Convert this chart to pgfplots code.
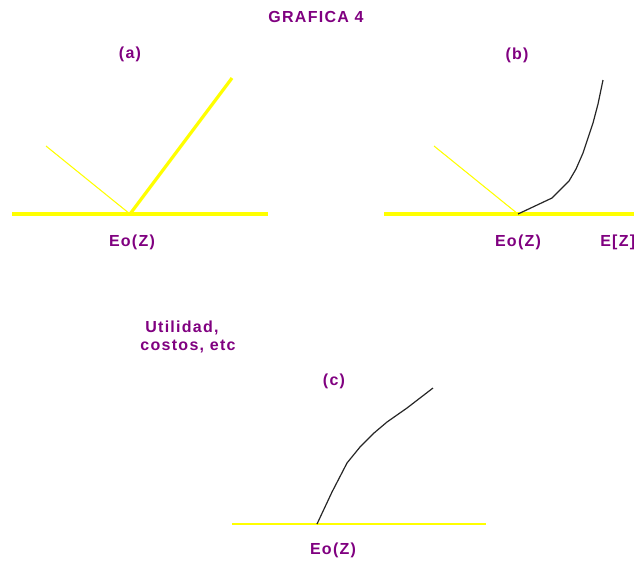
\documentclass[border=0pt]{standalone}
\usepackage{pgfplots}
\pgfplotsset{compat=1.18}
\usepackage{fontspec}
\setmainfont{Liberation Sans}
\newfontfamily\labfont[LetterSpace=8]{Liberation Sans}
\definecolor{lab}{HTML}{800080}
\definecolor{yel}{HTML}{FFFF00}
\tikzset{lab/.style={text=lab, inner sep=0pt, font=\labfont\bfseries\fontsize{12}{14}\selectfont}}
\begin{document}
\begin{tikzpicture}
\begin{axis}[
  width=475.5pt, height=421.5pt, scale only axis,
  xmin=0, xmax=634, ymin=0, ymax=562, y dir=reverse,
  hide axis, clip=false,
]
\useasboundingbox (axis cs:0,0) rectangle (axis cs:634,562);
% panel a
\addplot[yel, line width=3pt, no marks] coordinates {(12,214) (268,214)};
\addplot[yel, line width=0.8pt, no marks] coordinates {(46,146) (130,214)};
\addplot[yel, line width=2.4pt, no marks] coordinates {(130,214) (232,78)};
% panel b
\addplot[yel, line width=3pt, no marks] coordinates {(384,214) (640,214)};
\addplot[yel, line width=0.8pt, no marks] coordinates {(434,146) (518,214)};
\addplot[black!85, line width=0.9pt, no marks] coordinates {(518,214) (535,206) (552,198) (569,181) (576,169) (583,153) (588,138) (593,123) (598,104) (603,80)};
% panel c
\addplot[yel, line width=1.5pt, no marks] coordinates {(232,524) (486,524)};
\addplot[black!85, line width=0.9pt, no marks] coordinates {(317,524) (332,492) (347,463) (360,447) (374,433) (387,422) (407,408) (420,398) (433,388)};
% texts
\node[lab] at (axis cs:316,17) {GRAFICA 4};
\node[lab] at (axis cs:130,54) {(a)};
\node[lab] at (axis cs:132,242) {Eo(Z)};
\node[lab] at (axis cs:517,55) {(b)};
\node[lab] at (axis cs:518,242) {Eo(Z)};
\node[lab, anchor=west] at (axis cs:600,242) {E[Z]};
\node[lab] at (axis cs:182,328) {Utilidad,};
\node[lab] at (axis cs:188,347) {costos, etc};
\node[lab] at (axis cs:334,381) {(c)};
\node[lab] at (axis cs:333,550) {Eo(Z)};
\end{axis}
\end{tikzpicture}
\end{document}
